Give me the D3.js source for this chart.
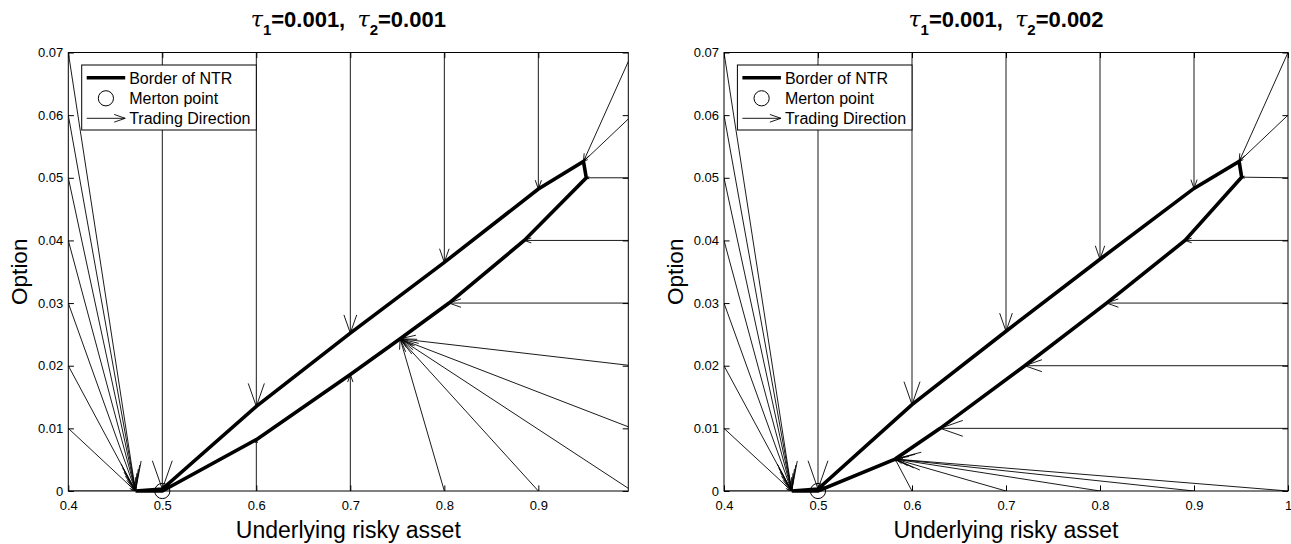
<!DOCTYPE html>
<html>
<head>
<meta charset="utf-8">
<script src="https://cdn.jsdelivr.net/npm/d3@7"></script>
<style>
  body { margin: 0; background: #fff; }
  text { font-family: "Liberation Sans", Arial, sans-serif; fill: #000; }
</style>
</head>
<body>
<svg id="chart" width="1291" height="544"></svg>
<script>
// ---- data ----
const xTicks = [0.4, 0.5, 0.6, 0.7, 0.8, 0.9, 1];
const yTicks = [0, 0.01, 0.02, 0.03, 0.04, 0.05, 0.06, 0.07];
const tau1 = ["0.001", "0.001"];
const tau2 = ["0.001", "0.002"];
const mertonPoint = [0.5, 0];
const legendLabels = ["Border of NTR", "Merton point", "Trading Direction"];

// border of the no-trade region, [x, y]
const borderLeft = [
  [0.4715, 0], [0.5, 0.0003], [0.6, 0.0135], [0.7, 0.0252], [0.8, 0.0365], [0.9, 0.0482],
  [0.948, 0.0526], [0.951, 0.050], [0.885, 0.040], [0.805, 0.030], [0.753, 0.0243],
  [0.7, 0.0186], [0.6, 0.0082], [0.5, 0], [0.4715, 0]
];
const borderRight = [
  [0.472, 0], [0.5, 0.0003], [0.6, 0.0138], [0.7, 0.0255], [0.8, 0.037], [0.9, 0.0483],
  [0.948, 0.0526], [0.9507, 0.0501], [0.8904, 0.040], [0.807, 0.030], [0.72, 0.020],
  [0.63, 0.010], [0.582, 0.0051], [0.5, 0], [0.472, 0]
];

// trading directions, [x0, y0, x1, y1]
const arrowsLeft = [
  [0.4, 0.07, 0.4715, 0], [0.4, 0.06, 0.4715, 0], [0.4, 0.05, 0.4715, 0], [0.4, 0.04, 0.4715, 0],
  [0.4, 0.03, 0.4715, 0], [0.4, 0.02, 0.4715, 0], [0.4, 0.01, 0.4715, 0], [0.4, 0, 0.4715, 0],
  [0.5, 0.07, 0.5, 0.0003], [0.6, 0.07, 0.6, 0.0135], [0.7, 0.07, 0.7, 0.0252],
  [0.8, 0.07, 0.8, 0.0365], [0.9, 0.07, 0.9, 0.0482],
  [1, 0.07, 0.948, 0.0526], [1, 0.06, 0.948, 0.0526], [1, 0.05, 0.951, 0.050],
  [1, 0.04, 0.885, 0.040], [1, 0.03, 0.805, 0.030],
  [1, 0.02, 0.753, 0.0243], [1, 0.01, 0.753, 0.0243], [1, 0, 0.753, 0.0243],
  [0.9, 0, 0.753, 0.0243], [0.8, 0, 0.753, 0.0243],
  [0.7, 0, 0.7, 0.0186], [0.6, 0, 0.6, 0.0082]
];
const arrowsRight = [
  [0.4, 0.07, 0.472, 0], [0.4, 0.06, 0.472, 0], [0.4, 0.05, 0.472, 0], [0.4, 0.04, 0.472, 0],
  [0.4, 0.03, 0.472, 0], [0.4, 0.02, 0.472, 0], [0.4, 0.01, 0.472, 0], [0.4, 0, 0.472, 0],
  [0.5, 0.07, 0.5, 0.0003], [0.6, 0.07, 0.6, 0.0138], [0.7, 0.07, 0.7, 0.0255],
  [0.8, 0.07, 0.8, 0.037], [0.9, 0.07, 0.9, 0.0483],
  [1, 0.07, 0.948, 0.0526], [1, 0.06, 0.948, 0.0526], [1, 0.05, 0.9507, 0.0501],
  [1, 0.04, 0.8904, 0.040], [1, 0.03, 0.807, 0.030], [1, 0.02, 0.72, 0.020],
  [1, 0.01, 0.63, 0.010], [1, 0, 0.582, 0.0051],
  [0.9, 0, 0.582, 0.0051], [0.8, 0, 0.582, 0.0051], [0.7, 0, 0.582, 0.0051], [0.6, 0, 0.582, 0.0051]
];

const svg = d3.select("#chart");
svg.append("rect").attr("width", 1291).attr("height", 544).attr("fill", "#fff");

const plotTop = 52.5, plotBottom = 491;
const tickLen = 5.6;

function headPath(x0, y0, x1, y1, k) {
  const L = Math.hypot(x1 - x0, y1 - y0);
  if (L < 0.5) return "";
  const ux = (x1 - x0) / L, uy = (y1 - y0) / L;
  const h = k == null ? 0.065 * L : k, w = h * 0.35;
  const bx = x1 - h * ux, by = y1 - h * uy;
  return `M${bx - w * uy},${by + w * ux}L${x1},${y1}L${bx + w * uy},${by - w * ux}`;
}

function drawPanel(id, left, right, xMax, t1, t2, border, arrows) {
  const x = d3.scaleLinear().domain([0.4, xMax]).range([left, right]);
  const y = d3.scaleLinear().domain([0, 0.07]).range([plotBottom, plotTop]);
  const g = svg.append("g");
  const cx = (left + right) / 2;

  g.append("clipPath").attr("id", "clip" + id)
    .append("rect").attr("x", left).attr("y", plotTop)
    .attr("width", right - left).attr("height", plotBottom - plotTop);

  // arrows
  const ag = g.append("g").attr("clip-path", `url(#clip${id})`)
    .attr("fill", "none").attr("stroke", "#000").attr("stroke-width", 0.9);
  ag.selectAll("line").data(arrows).join("line")
    .attr("x1", d => x(d[0])).attr("y1", d => y(d[1]))
    .attr("x2", d => x(d[2])).attr("y2", d => y(d[3]));
  ag.selectAll("path").data(arrows).join("path")
    .attr("d", d => headPath(x(d[0]), y(d[1]), x(d[2]), y(d[3])));

  // axes box + ticks
  const xt = xTicks.filter(v => v <= xMax + 1e-9);
  g.append("g").attr("transform", `translate(0,${plotBottom})`)
    .call(d3.axisBottom(x).tickValues(xt).tickFormat(d3.format("~g"))
      .tickSizeInner(-tickLen).tickSizeOuter(0).tickPadding(9.5))
    .call(a => a.select(".domain").remove());
  g.append("g").attr("transform", `translate(0,${plotTop})`)
    .call(d3.axisTop(x).tickValues(xt).tickFormat("")
      .tickSizeInner(-tickLen).tickSizeOuter(0))
    .call(a => a.select(".domain").remove());
  g.append("g").attr("transform", `translate(${left},0)`)
    .call(d3.axisLeft(y).tickValues(yTicks).tickFormat(d3.format("~g"))
      .tickSizeInner(-tickLen).tickSizeOuter(0).tickPadding(5))
    .call(a => a.select(".domain").remove());
  g.append("g").attr("transform", `translate(${right},0)`)
    .call(d3.axisRight(y).tickValues(yTicks).tickFormat("")
      .tickSizeInner(-tickLen).tickSizeOuter(0))
    .call(a => a.select(".domain").remove());
  g.selectAll(".tick text").attr("font-size", 13)
    .attr("font-family", '"Liberation Sans", Arial, sans-serif');
  g.selectAll(".tick line").attr("stroke", "#000");
  g.append("rect").attr("x", left).attr("y", plotTop)
    .attr("width", right - left).attr("height", plotBottom - plotTop)
    .attr("fill", "none").attr("stroke", "#000").attr("stroke-width", 1);

  // border of NTR
  g.append("path").datum(border)
    .attr("d", d3.line().x(d => x(d[0])).y(d => y(d[1])))
    .attr("fill", "none").attr("stroke", "#000").attr("stroke-width", 3.6)
    .attr("stroke-linejoin", "miter");

  // Merton point
  g.append("circle").attr("cx", x(mertonPoint[0])).attr("cy", y(mertonPoint[1]))
    .attr("r", 7.6).attr("fill", "none").attr("stroke", "#000").attr("stroke-width", 1);

  // title
  const title = g.append("text").attr("x", cx).attr("y", 27)
    .attr("text-anchor", "middle").attr("font-size", 22).attr("font-weight", "bold");
  title.append("tspan").attr("font-style", "italic").attr("font-weight", "normal")
    .attr("font-family", '"DejaVu Serif", serif').text("τ");
  title.append("tspan").attr("font-size", 15).attr("dy", 7.5).text("1");
  title.append("tspan").attr("dy", -7.5).text(`=${t1},\u00a0\u00a0`);
  title.append("tspan").attr("font-style", "italic").attr("font-weight", "normal")
    .attr("font-family", '"DejaVu Serif", serif').text("τ");
  title.append("tspan").attr("font-size", 15).attr("dy", 7.5).text("2");
  title.append("tspan").attr("dy", -7.5).text(`=${t2}`);

  // axis labels
  g.append("text").attr("x", cx).attr("y", 538).attr("text-anchor", "middle")
    .attr("font-size", 23).text("Underlying risky asset");
  g.append("text").attr("transform", `translate(${left - 41},${(plotTop + plotBottom) / 2}) rotate(-90)`)
    .attr("text-anchor", "middle").attr("font-size", 22.5).text("Option");

  // legend
  const lx = left + 13.4, ly = 65;
  const lg = g.append("g");
  lg.append("rect").attr("x", lx).attr("y", ly).attr("width", 174.6).attr("height", 65)
    .attr("fill", "#fff").attr("stroke", "#000").attr("stroke-width", 1);
  const rows = [77.7, 98.3, 118.3];
  lg.append("line").attr("x1", lx + 5).attr("x2", lx + 43.5).attr("y1", rows[0]).attr("y2", rows[0])
    .attr("stroke", "#000").attr("stroke-width", 3.6);
  lg.append("circle").attr("cx", lx + 24.2).attr("cy", rows[1]).attr("r", 7.6)
    .attr("fill", "none").attr("stroke", "#000");
  lg.append("line").attr("x1", lx + 5).attr("x2", lx + 43.5).attr("y1", rows[2]).attr("y2", rows[2])
    .attr("stroke", "#000").attr("stroke-width", 0.9);
  lg.append("path").attr("d", headPath(lx + 5, rows[2], lx + 43.5, rows[2], 11))
    .attr("fill", "none").attr("stroke", "#000").attr("stroke-width", 0.9);
  lg.selectAll("text.lab").data(legendLabels).join("text")
    .attr("x", lx + 47.5).attr("y", (d, i) => rows[i] + 5.8)
    .attr("font-size", 16).text(d => d);
}

drawPanel("L", 68.3, 628.3, 0.9957, tau1[0], tau2[0], borderLeft, arrowsLeft);
drawPanel("R", 724, 1288, 1, tau1[1], tau2[1], borderRight, arrowsRight);
</script>
</body>
</html>
